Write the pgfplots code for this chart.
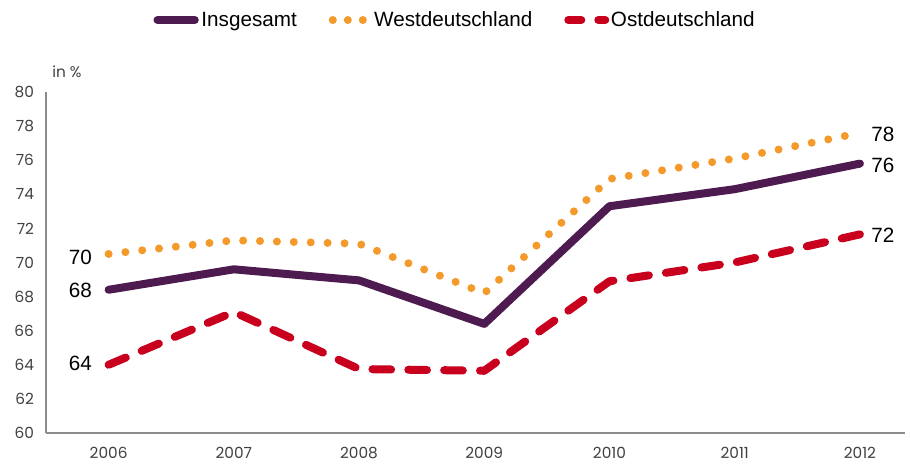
\documentclass[border=0pt]{standalone}
\usepackage{fontspec}
\setmainfont{Liberation Sans}
\newfontfamily\tickfont{Poppins}
\usepackage{pgfplots}
\pgfplotsset{compat=1.18}
\definecolor{cPurple}{HTML}{4E1B50}
\definecolor{cOrange}{HTML}{F39A2B}
\definecolor{cRed}{HTML}{C8001E}
\definecolor{cGrey}{HTML}{404040}
\definecolor{cAxis}{HTML}{8C8C8C}
\begin{document}
\begin{tikzpicture}
\begin{axis}[
  at={(0,0)}, anchor=south west,
  scale only axis,
  width=644.25pt, height=255.75pt,
  xmin=2005.5, xmax=2012.36,
  ymin=60, ymax=80,
  axis lines*=left,
  axis line style={cAxis, line width=0.8pt, -},
  xtick={2006,2007,2008,2009,2010,2011,2012},
  xticklabels={2006,2007,2008,2009,2010,2011,2012},
  ytick={60,62,...,80},
  major tick length=0pt,
  tick label style={font=\tickfont\fontsize{11.5pt}{13pt}\selectfont, text=cGrey},
  /pgf/number format/assume math mode=true,
  xticklabel style={yshift=-7pt},
  yticklabel style={xshift=-5.5pt},
  clip=false,
  legend columns=3,
  legend style={at={(0.475,1.211)}, anchor=center, draw=none, fill=none,
    font=\fontsize{15.5pt}{17pt}\selectfont,
    nodes={inner sep=0pt},
    /tikz/every even column/.append style={column sep=24pt},
    /tikz/every odd column/.append style={column sep=0pt}},
  legend cell align=left,
]
\addplot[cPurple, line width=6pt, line cap=round, line join=round,
  legend image code/.code={\draw[cPurple, solid, line width=6pt, line cap=round] (3pt,0pt) -- (31pt,0pt); \path[draw=none, fill=none] (0pt,-4pt) (36pt,4pt);}]
  coordinates {(2006,68.4) (2007,69.6) (2008,68.95) (2009,66.4) (2010,73.3) (2011,74.3) (2012,75.8)};
\addlegendentry{Insgesamt}
\addplot[cOrange, line width=6pt, line cap=round, dash pattern=on 0pt off 12.68pt,
  legend image code/.code={\fill[cOrange, draw=none, solid] (3pt,0pt) circle[radius=3pt] (14.25pt,0pt) circle[radius=3pt] (25.5pt,0pt) circle[radius=3pt]; \path[draw=none, fill=none] (0pt,-4pt) (34pt,4pt);}]
  coordinates {(2006,70.5) (2007,71.3) (2008,71.1) (2009,68.2) (2010,74.9) (2011,76.1) (2012,77.6)};
\addlegendentry{Westdeutschland}
\addplot[cRed, line width=6pt, line cap=round, line join=round, dash pattern=on 14pt off 12.9pt,
  legend image code/.code={\draw[cRed, solid, line width=6pt, line cap=round] (3pt,0pt) -- (12.75pt,0pt) (25.5pt,0pt) -- (30.75pt,0pt); \path[draw=none, fill=none] (0pt,-4pt) (35pt,4pt);}]
  coordinates {(2006,64.0) (2007,67.1) (2008,63.75) (2009,63.65) (2010,68.9) (2011,70.0) (2012,71.65)};
\addlegendentry{Ostdeutschland}
\node[font=\fontsize{15.5pt}{17pt}\selectfont] at (axis cs:2006,70.32) [xshift=-21.2pt] {70};
\node[font=\fontsize{15.5pt}{17pt}\selectfont] at (axis cs:2006,68.36) [xshift=-21.2pt] {68};
\node[font=\fontsize{15.5pt}{17pt}\selectfont] at (axis cs:2006,64.1) [xshift=-21.2pt] {64};
\node[font=\fontsize{15.5pt}{17pt}\selectfont] at (axis cs:2012,77.54) [xshift=17.2pt] {78};
\node[font=\fontsize{15.5pt}{17pt}\selectfont] at (axis cs:2012,75.67) [xshift=17.2pt] {76};
\node[font=\fontsize{15.5pt}{17pt}\selectfont] at (axis cs:2012,71.58) [xshift=17.2pt] {72};
\node[anchor=base west, inner sep=0pt, font=\tickfont\fontsize{11.5pt}{13pt}\selectfont, text=cGrey] at (rel axis cs:0,1) [xshift=4.5pt, yshift=10.5pt] {in \%};
\end{axis}
\pgfresetboundingbox
\path (-34.5pt,-23.25pt) rectangle (648pt,324.75pt);
\end{tikzpicture}
\end{document}
